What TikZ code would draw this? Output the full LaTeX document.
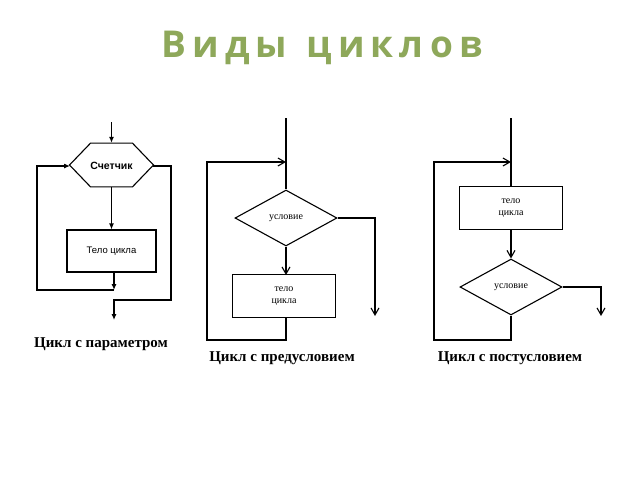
\documentclass[tikz,border=0pt]{standalone}
\usepackage{fontspec}
\setmainfont{Liberation Serif}
\newfontfamily\titlefont{Open Sans}
\newfontfamily\arialfont{Liberation Sans}
\usetikzlibrary{shapes.geometric,arrows.meta}
\definecolor{titlegreen}{HTML}{8EA85A}
\begin{document}
\begin{tikzpicture}[x=1pt,y=-1pt,line width=1.1pt,
  fa/.style={-{Latex[length=6pt,width=5pt]}},
  oa/.style={-{Straight Barb[length=7pt,width=8pt]}},
  sbox/.style={draw,rectangle,minimum width=103pt,minimum height=43pt,align=center,font=\fontsize{10}{12}\selectfont},
  dia/.style={draw,diamond,aspect=1.8,minimum width=102pt,minimum height=56pt,inner sep=0pt,font=\fontsize{10}{12}\selectfont},
  captext/.style={font=\bfseries\fontsize{15}{17}\selectfont}]
\useasboundingbox (0,0) rectangle (640,480);
\node[font=\titlefont\bfseries\fontsize{37}{40}\selectfont,text=titlegreen] (title) at (322,48) {В\,и\,д\,ы\ \ ц\,и\,к\,л\,о\,в};
% left
\node[draw,regular polygon,regular polygon sides=6,shape border rotate=0,minimum width=84pt,inner sep=0pt,yscale=0.6] (hexs) at (111.5,165) {};
\node[font=\arialfont\bfseries\fontsize{10.5}{12}\selectfont] (hext) at (111.5,166) {Счетчик};
\node[draw,rectangle,minimum width=89pt,minimum height=42pt,font=\arialfont\fontsize{9.5}{11}\selectfont] (body1) at (111.5,251) {Тело цикла};
\coordinate (in1) at (111.5,122);
\coordinate (hl) at (70,166);
\coordinate (hr) at (153,166);
\coordinate (j1) at (114,290);
\coordinate (out1) at (114,320);
\draw[fa] (in1) -- (hexs.north);
\draw[fa] (hexs.south) -- (body1.north);
\draw[fa] (114,272) -- (j1);
\draw[fa] (j1) -- (37,290) -- (37,166) -- (hl);
\draw[fa] (hr) -- (171,166) -- (171,300) -- (114,300) -- (out1);
\node[captext] (cap1) at (101,344) {Цикл с параметром};
% middle
\node[dia] (d2) at (286,218) {условие};
\node[sbox] (b2) at (284,296) {тело\\цикла};
\coordinate (in2) at (286,118);
\draw (in2) -- (d2.north);
\draw[oa] (d2.south) -- (286,275);
\draw[oa] (286,318) -- (286,340) -- (207,340) -- (207,162) -- (286,162);
\draw[oa] (d2.east) -- (375,218) -- (375,316);
\node[captext] (cap2) at (282,358) {Цикл с предусловием};
% right
\node[sbox] (b3) at (511,208) {тело\\цикла};
\node[dia] (d3) at (511,287) {условие};
\coordinate (in3) at (511,118);
\draw (in3) -- (b3.north);
\draw[oa] (b3.south) -- (d3.north);
\draw[oa] (d3.south) -- (511,340) -- (434,340) -- (434,162) -- (511,162);
\draw[oa] (d3.east) -- (601,287) -- (601,316);
\node[captext] (cap3) at (510,358) {Цикл с постусловием};
\end{tikzpicture}
\end{document}
